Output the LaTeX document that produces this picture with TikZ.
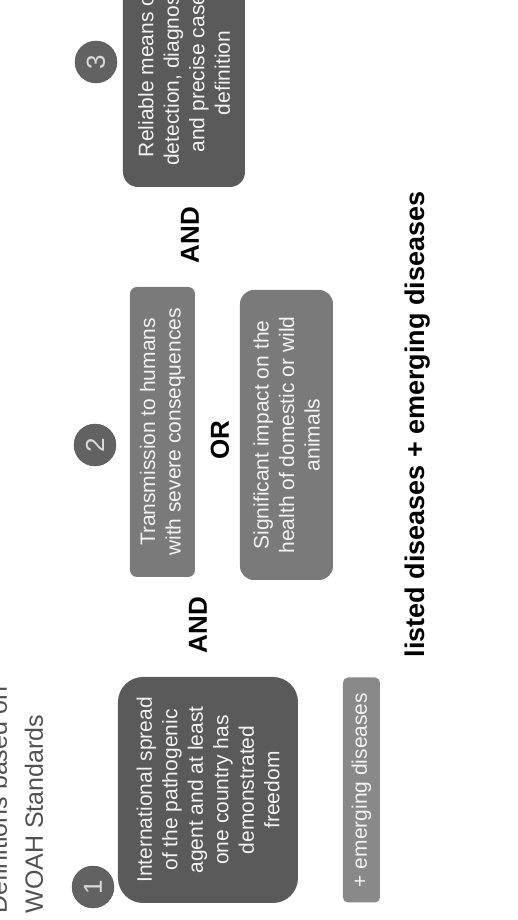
\documentclass[tikz,border=0pt]{standalone}
\usepackage{fontspec}
\setmainfont{Liberation Sans}
\usetikzlibrary{positioning}

\definecolor{darkbox}{HTML}{5A5A5A}
\definecolor{midbox}{HTML}{7A7A7A}
\definecolor{lightbox}{HTML}{898989}
\definecolor{disc}{HTML}{626262}
\definecolor{titlegray}{HTML}{505050}

\begin{document}
\begin{tikzpicture}[rotate=90, transform shape, x=1pt, y=1pt, on grid,
    crit/.style={rectangle, rounded corners=#1, text=white!95!black, align=center,
                 inner sep=0pt, font=\fontsize{21}{25.5}\selectfont},
    num/.style={circle, fill=disc, draw=disc!85!black, minimum size=42pt, inner sep=0pt,
                text=white!85!black, font=\fontsize{26}{26}\selectfont},
    link/.style={font=\fontsize{26}{26}\selectfont\bfseries},
    title/.style={anchor=base west, text=titlegray, font=\fontsize{25}{25}\selectfont}]
    \useasboundingbox (0,0) rectangle (920,518);

    % heading, cut at the edge
    \node[title] (head1) at (3,511) {Definitions based on};
    \node[title] (head2) at (3,475) {WOAH Standards};

    % criterion 1
    \node[num] (n1) at (33,425) {1};
    \node[crit=25pt, fill=darkbox, minimum width=226pt, minimum height=180pt] (spread) at (130,310)
        {International spread\\of the pathogenic\\agent and at least\\one country has\\demonstrated\\freedom};
    \node[crit=5pt, fill=lightbox, minimum width=225pt, minimum height=37pt] (emerg) [below=153.5pt of spread]
        {+ emerging diseases};

    \node[link] (and1) at (295,320) {AND};

    % criterion 2
    \node[num] (n2) at (475,423) {2};
    \node[crit=7pt, fill=midbox, minimum width=290pt, minimum height=65pt] (humans) at (488,355.5)
        {Transmission to humans\\with severe consequences};
    \node[link] (or) at (480,298) {OR};
    \node[crit=14pt, fill=midbox, minimum width=290pt, minimum height=93pt] (animals) [below=124pt of humans, xshift=-3pt]
        {Significant impact on the\\health of domestic or wild\\animals};

    \node[link] (and2) at (685,328) {AND};

    % criterion 3
    \node[num] (n3) at (858,422) {3};
    \node[crit=15pt, fill=darkbox, minimum width=228pt, minimum height=122pt] (detect) at (847,334)
        {Reliable means of\\detection, diagnosis\\and precise case\\definition};

    \node[link, font=\fontsize{27}{27}\selectfont\bfseries] (listed) at (495.5,100)
        {listed diseases + emerging diseases};
\end{tikzpicture}
\end{document}
